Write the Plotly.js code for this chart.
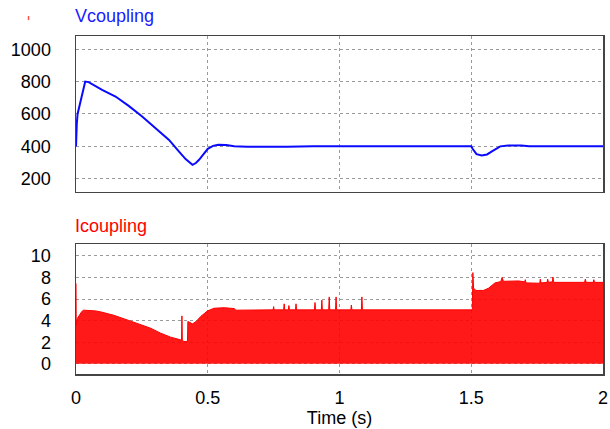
<!DOCTYPE html>
<html>
<head>
<meta charset="utf-8">
<script src="https://cdn.plot.ly/plotly-3.0.1.min.js"></script>
<style>
html,body{margin:0;padding:0;background:#fff;}
#chart{width:610px;height:429px;}
</style>
</head>
<body>
<div id="chart"></div>
<script>
// Vcoupling (V) vs time (s)
var tV = [0, 0.001, 0.003, 0.006, 0.009, 0.012, 0.015, 0.019, 0.023, 0.027, 0.03, 0.035, 0.048,
  0.099, 0.15, 0.2, 0.251, 0.302, 0.353, 0.391, 0.416, 0.442, 0.455, 0.467,
  0.48, 0.492, 0.50, 0.52, 0.54, 0.57, 0.6, 0.65, 0.7, 0.75, 0.78, 0.8, 0.9, 1.0, 1.1,
  1.2, 1.3, 1.4, 1.5, 1.505, 1.52, 1.54, 1.56, 1.58, 1.61, 1.64, 1.69, 1.72, 1.8, 1.9, 2.0];
var vCoupling = [400, 488, 540, 600, 622, 645, 670, 700, 726, 745, 778, 800, 797,
  749, 708, 650, 584, 512, 440, 368, 321, 286, 297, 317,
  342, 368, 385, 403, 410, 408, 400, 398, 397, 397, 394, 398, 400, 400, 399,
  400, 401, 400, 400, 385, 352, 343, 350, 370, 400, 406, 406, 401, 400, 399, 400];

// Icoupling (A) upper envelope vs time (s)
var tI = [0, 0.0008, 0.0015, 0.005, 0.01, 0.016, 0.022, 0.029, 0.054, 0.075, 0.099, 0.143,
  0.194, 0.232, 0.283, 0.321, 0.359, 0.397, 0.4005, 0.402, 0.4035, 0.41, 0.423, 0.4245,
  0.442, 0.456, 0.473, 0.499, 0.524, 0.562, 0.6, 0.607,
  0.748, 0.75, 0.752, 0.788, 0.79, 0.792, 0.806, 0.808, 0.81, 0.833, 0.835, 0.837,
  0.905, 0.907, 0.909, 0.931, 0.933, 0.935, 0.959, 0.961, 0.963, 0.985, 0.987, 0.989,
  1.043, 1.045, 1.047, 1.083, 1.085, 1.087, 1.504,
  1.506, 1.509, 1.518, 1.546, 1.565, 1.578, 1.59, 1.612, 1.617, 1.622, 1.68,
  1.703, 1.705, 1.708, 1.72, 1.76, 1.762, 1.765, 1.788, 1.79, 1.793, 1.808, 1.81, 1.813,
  1.93, 1.933, 1.936, 1.963, 1.965, 1.968, 2.0];
var iCoupling = [7.45, 3.6, 3.8, 4.2, 4.4, 4.63, 4.85, 4.97, 4.97, 4.9, 4.78, 4.5,
  4.07, 3.77, 3.3, 2.84, 2.47, 2.22, 2.2, 4.44, 2.15, 2.07, 2.07, 3.92,
  3.7, 3.92, 4.38, 4.9, 5.15, 5.2, 5.12, 4.97,
  5.0, 5.3, 5.0, 5.0, 5.56, 5.0, 5.0, 5.4, 5.0, 5.0, 5.56, 5.0,
  5.0, 5.68, 5.0, 5.0, 5.9, 5.0, 5.0, 6.2, 5.0, 5.0, 6.2, 5.0,
  5.0, 5.45, 5.0, 5.0, 6.2, 5.0, 5.0,
  8.45, 7.0, 6.8, 6.8, 7.0, 7.3, 7.5, 7.62, 8.0, 7.65, 7.68,
  7.6, 7.8, 7.5, 7.5, 7.47, 7.85, 7.5, 7.55, 7.85, 7.55, 7.6, 8.05, 7.55,
  7.55, 7.85, 7.55, 7.55, 7.8, 7.55, 7.55];

var xTicks = [0, 0.5, 1, 1.5, 2];
var xTickText = ['0', '0.5', '1', '1.5', '2'];
var vTicks = [200, 400, 600, 800, 1000];
var iTicks = [0, 2, 4, 6, 8, 10];

var FONT = 'Liberation Sans, Arial, sans-serif';

var traces = [
  {x: tV, y: vCoupling, xaxis: 'x2', yaxis: 'y2', type: 'scatter', mode: 'lines',
   line: {color: '#0a0aff', width: 2}, hoverinfo: 'skip', showlegend: false},
  {x: tI, y: iCoupling, xaxis: 'x', yaxis: 'y', type: 'scatter', mode: 'lines',
   fill: 'tozeroy', fillcolor: 'rgba(255,0,0,0.9)',
   line: {color: '#ff0000', width: 1}, hoverinfo: 'skip', showlegend: false}
];

var axCommon = {
  showline: true, linecolor: '#444', linewidth: 1.5, mirror: true,
  showgrid: true, gridcolor: '#9a9a9a', griddash: 'dot', gridwidth: 1,
  zeroline: false, ticks: '', automargin: false,
  tickfont: {family: FONT, size: 18, color: '#000'}
};

var layout = {
  width: 610, height: 429,
  margin: {l: 76, r: 7, t: 36, b: 55},
  paper_bgcolor: '#fff', plot_bgcolor: '#fff',
  showlegend: false,
  xaxis: Object.assign({}, axCommon, {
    domain: [0, 1], anchor: 'y', range: [0, 2], tickvals: xTicks, ticktext: xTickText,
    ticklabelstandoff: 7,
    title: {text: 'Time (s)', font: {family: FONT, size: 18, color: '#000'}, standoff: 4}
  }),
  yaxis: Object.assign({}, axCommon, {
    domain: [0, 0.3837], anchor: 'x', range: [-0.95, 11.08], tickvals: iTicks,
    ticklabelstandoff: 20
  }),
  xaxis2: Object.assign({}, axCommon, {
    domain: [0, 1], anchor: 'y2', range: [0, 2], tickvals: xTicks, showticklabels: false
  }),
  yaxis2: Object.assign({}, axCommon, {
    domain: [0.5385, 1], anchor: 'x2', range: [118, 1082], tickvals: vTicks,
    ticklabelstandoff: 20
  }),
  annotations: [
    {text: 'Vcoupling', xref: 'paper', yref: 'paper', x: -0.005, y: 1.059, xanchor: 'left', yanchor: 'middle',
     showarrow: false, font: {family: FONT, size: 18, color: '#1a1aff'}},
    {text: 'Icoupling', xref: 'paper', yref: 'paper', x: -0.005, y: 0.4380, xanchor: 'left', yanchor: 'middle',
     showarrow: false, font: {family: FONT, size: 18, color: '#ff0000'}}
  ],
  shapes: [
    {type: 'line', xref: 'paper', yref: 'paper', x0: -0.0901, x1: -0.0901, y0: 1.047, y1: 1.059,
     line: {color: '#ff5050', width: 1.5}}
  ]
};

Plotly.newPlot('chart', traces, layout, {staticPlot: true, displayModeBar: false});
</script>
</body>
</html>
